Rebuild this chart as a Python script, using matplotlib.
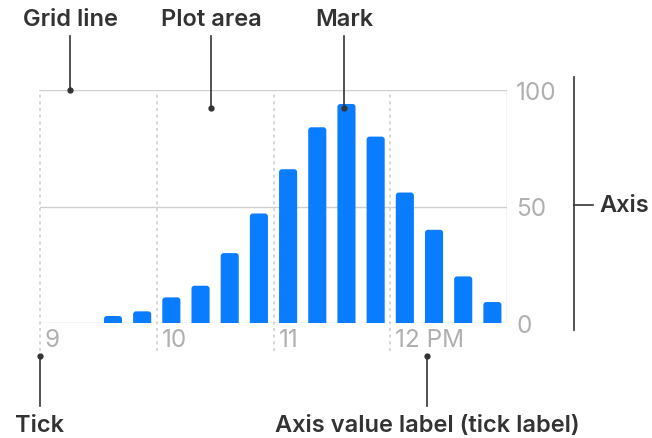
import matplotlib.pyplot as plt
from matplotlib.patches import FancyBboxPatch
from matplotlib.transforms import offset_copy

plt.rcParams['font.family'] = ['Inter', 'DejaVu Sans']

# 15 minute buckets, start times in hours (9.5 = 9:30)
bucket_start = [9.5, 9.75, 10.0, 10.25, 10.5, 10.75, 11.0, 11.25,
                11.5, 11.75, 12.0, 12.25, 12.5, 12.75]
counts = [3, 5, 11, 16, 30, 47, 66, 84, 94, 80, 56, 40, 20, 9]
tick_hours = [9, 10, 11, 12]
tick_labels = ['9', '10', '11', '12 PM']
y_ticks = [0, 50, 100]

blue = '#0a7cff'
grid = '#cfcfcf'
label_gray = '#b0b0b0'
ink = '#333333'

W, H = 652, 439
fig = plt.figure(figsize=(W / 100, H / 100), dpi=100)
ax = fig.add_axes([40 / W, (H - 324) / H, 467 / W, 233 / H])
ax.set_xlim(9, 13)
ax.set_ylim(0, 100)

centers = [b + 0.125 for b in bucket_start]
bars = ax.bar(centers, counts, width=0.155, color=blue, linewidth=0)

# swap the plain rectangles for rounded ones (bottom rounding hidden below 0)
r_x = 3 / 117
r_y = 3 * 100 / 233
for rect in bars:
    x0, w, h = rect.get_x(), rect.get_width(), rect.get_height()
    rect.set_visible(False)
    p = FancyBboxPatch((x0, -r_y), w, h + r_y,
                       boxstyle=f"round,pad=0,rounding_size={r_x}",
                       mutation_aspect=r_y / r_x, fc=blue, ec='none')
    ax.add_patch(p)

for v in y_ticks:
    ax.axhline(v, color=grid, lw=1, zorder=0)
for h in tick_hours:
    ax.axvline(h, ymin=-28 / 233, ymax=1, color=grid, lw=1.2,
               ls=(0, (1.8, 2.2)), clip_on=False, zorder=0)
ax.axvline(13, color=grid, lw=1, zorder=0)

for s in ax.spines.values():
    s.set_visible(False)
ax.set_xticks([])
ax.yaxis.tick_right()
ax.set_yticks(y_ticks)
ax.tick_params(axis='y', length=0, pad=6.5, labelsize=17.5, labelcolor=label_gray)

lab_tr = offset_copy(ax.get_xaxis_transform(), fig=fig, x=5, y=0, units='dots')
for h, lab in zip(tick_hours, tick_labels):
    ax.text(h, -17 / 233, lab, transform=lab_tr, ha='left', va='center',
            fontsize=17.5, color=label_gray)

# callout layer in pixel coordinates
ov = fig.add_axes([0, 0, 1, 1], zorder=5)
ov.set_xlim(0, W)
ov.set_ylim(H, 0)
ov.axis('off')
ov.patch.set_alpha(0)

tkw = dict(fontsize=17, fontweight='semibold', color=ink, va='center')
callouts = [('Grid line', 70, 20, 37, 91),
            ('Plot area', 211, 20, 37, 109),
            ('Mark', 344, 20, 37, 109)]
for txt, x, ty, y0, y1 in callouts:
    ov.text(x, ty, txt, ha='center', **tkw)
    ov.plot([x, x], [y0, y1], color=ink, lw=1.2)
    ov.plot(x, y1, 'o', color=ink, ms=3.5)

for txt, x, tx in [('Tick', 40, 40), ('Axis value label (tick label)', 427, 427)]:
    ov.text(tx, 426, txt, ha='center', **tkw)
    ov.plot([x, x], [357, 407], color=ink, lw=1.2)
    ov.plot(x, 357, 'o', color=ink, ms=3.5)

ov.plot([574, 574], [78, 331], color=ink, lw=1.2)
ov.plot([574, 593], [206, 206], color=ink, lw=1.2)
ov.text(599, 206, 'Axis', ha='left', **tkw)

fig.savefig('out.png', dpi=100)
